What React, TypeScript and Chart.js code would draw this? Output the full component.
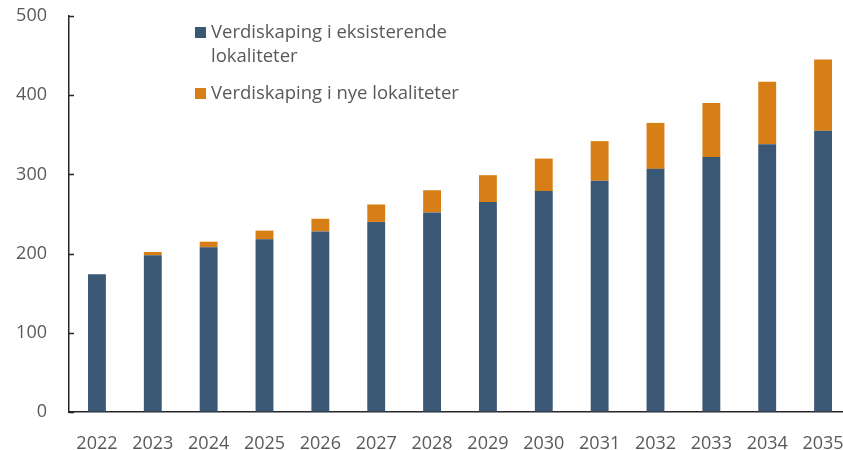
import React, { useEffect, useRef } from "react";
import { Chart, registerables } from "chart.js";

Chart.register(...registerables);

const categories = ["2022", "2023", "2024", "2025", "2026", "2027", "2028", "2029", "2030", "2031", "2032", "2033", "2034", "2035"];
const existing = [174, 198, 208, 218, 228, 240, 252, 265, 279, 292, 307, 322, 338, 355];
const newSites = [0, 4, 7, 11, 16, 22, 28, 34, 41, 50, 58, 68, 79, 90];
const seriesNames = ["Verdiskaping i eksisterende lokaliteter", "Verdiskaping i nye lokaliteter"];
const legendLines = [["Verdiskaping i eksisterende", "lokaliteter"], ["Verdiskaping i nye lokaliteter"]];

const BLUE = "#3A5775";
const ORANGE = "#D87E17";
const TEXT = "#595959";
const AXIS = "#262626";
const FONT = "'Open Sans', sans-serif";

const inwardTicks = {
  id: "inwardTicks",
  afterDraw(chart: any) {
    const y = chart.scales.y;
    const ctx = chart.ctx;
    ctx.save();
    ctx.strokeStyle = AXIS;
    ctx.lineWidth = 1.5;
    y.ticks.forEach((_t: any, i: number) => {
      const py = Math.round(y.getPixelForTick(i)) + 0.5;
      ctx.beginPath();
      ctx.moveTo(chart.chartArea.left, py);
      ctx.lineTo(chart.chartArea.left + 5, py);
      ctx.stroke();
    });
    ctx.restore();
  },
};

export default function App() {
  const ref = useRef<HTMLCanvasElement>(null);
  useEffect(() => {
    if (!ref.current) return;
    const chart = new Chart(ref.current, {
      type: "bar",
      data: {
        labels: categories,
        datasets: [
          { label: seriesNames[0], data: existing, backgroundColor: BLUE, borderWidth: 0 },
          { label: seriesNames[1], data: newSites, backgroundColor: ORANGE, borderWidth: 0 },
        ],
      },
      options: {
        animation: false,
        responsive: true,
        maintainAspectRatio: false,
        layout: { padding: { top: 16, right: 5, left: 0, bottom: 0 } },
        datasets: { bar: { categoryPercentage: 1, barPercentage: 0.32 } },
        plugins: { legend: { display: false }, tooltip: { enabled: false } },
        scales: {
          x: {
            stacked: true,
            grid: { display: true, drawOnChartArea: false, drawTicks: true, tickLength: 21, tickColor: "rgba(0,0,0,0)" },
            border: { display: true, color: AXIS, width: 1.5 },
            ticks: { color: TEXT, font: { family: FONT, size: 18 }, padding: 0, maxRotation: 0 },
            afterFit: (s: any) => { s.height = 38; },
          },
          y: {
            stacked: true,
            min: 0,
            max: 500,
            grid: { display: true, drawOnChartArea: false, drawTicks: true, tickLength: 22, tickColor: "rgba(0,0,0,0)" },
            border: { display: true, color: AXIS, width: 1.5 },
            ticks: { stepSize: 100, color: TEXT, font: { family: FONT, size: 18 }, padding: 0 },
            afterFit: (s: any) => { s.width = 69; },
          },
        },
      },
      plugins: [inwardTicks],
    });
    return () => chart.destroy();
  }, []);

  const legendColors = [BLUE, ORANGE];
  const legendTops = [19, 80];

  return (
    <div style={{ position: "fixed", left: 0, top: 0, width: 843, height: 450, overflow: "hidden", background: "#fff" }}>
      <div style={{ position: "relative", width: 856, height: 450 }}>
        <canvas ref={ref} />
        {legendLines.map((lines, i) => (
          <div key={i} style={{ position: "absolute", left: 195, top: legendTops[i], display: "flex", alignItems: "flex-start" }}>
            <div style={{ width: 11, height: 11, background: legendColors[i], marginTop: 8, marginRight: 5 }} />
            <div style={{ fontFamily: FONT, fontSize: 18.5, lineHeight: "24px", color: TEXT }}>
              {lines.map((l, j) => (
                <div key={j}>{l}</div>
              ))}
            </div>
          </div>
        ))}
      </div>
    </div>
  );
}
